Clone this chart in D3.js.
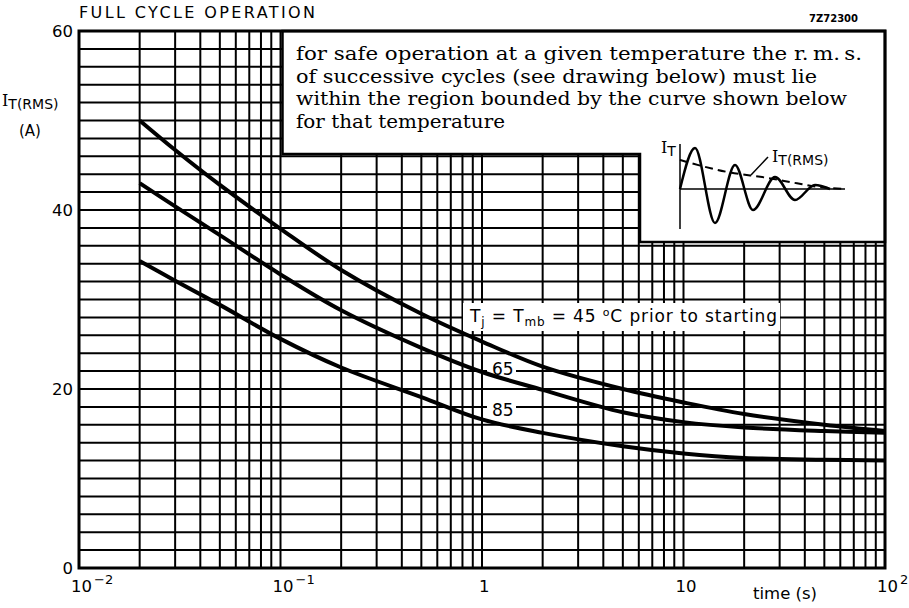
<!DOCTYPE html>
<html>
<head>
<meta charset="utf-8">
<script src="https://cdn.jsdelivr.net/npm/d3@7"></script>
<style>
  body { margin: 0; background: #fff; }
  text { fill: #000; }
</style>
</head>
<body>
<svg id="chart" width="909" height="608"></svg>
<script>
// surge current curves
const times = [0.02, 0.03, 0.05, 0.1, 0.2, 0.5, 1, 2, 5, 10, 20, 50, 100];
const i45 = [50, 46.7, 42.8, 37.9, 33.3, 28.4, 25.3, 22.5, 20.0, 18.5, 17.2, 16.0, 15.3];
const i65 = [43.0, 40.4, 37.2, 32.8, 28.8, 24.6, 21.9, 19.9, 17.4, 16.3, 15.7, 15.3, 15.1];
const i85 = [34.3, 32.1, 29.4, 25.6, 22.4, 19.1, 16.6, 15.1, 13.6, 12.8, 12.3, 12.1, 12.0];

const xTicks = [0.01, 0.1, 1, 10, 100];
const xTickLabels = [["10", "\u22122"], ["10", "\u22121"], ["1", ""], ["10", ""], ["10", "2"]];
const yTicks = [0, 20, 40, 60];

const noteLines = [
    "for safe operation at a given temperature the r.\u2009m.\u2009s.",
    "of successive cycles (see drawing below) must lie",
    "within the region bounded by the curve shown below",
    "for that temperature"
];
const noteWidths = [566, 521, 551, 209];

// little sketch in the corner (arbitrary units)
const waveT = [0, 15, 35, 55, 73, 95, 115, 135, 150];
const waveA = [0, 41, -34, 24, -21, 12, -11, 4, 0];
const rmsT = [0, 46, 88, 117, 137, 165];
const rmsA = [29, 17.3, 11, 5.7, 2.3, 0];

const svg = d3.select('#chart');
const sans = '"DejaVu Sans", sans-serif';

const x = d3.scaleLog().domain([0.01, 100]).range([79, 885]);
const y = d3.scaleLinear().domain([0, 60]).range([568, 31]);

// grid
const vLines = [];
[0.01, 0.1, 1, 10].forEach(d => {
    for (let k = 1; k < 10; k++) vLines.push(k * d);
});
vLines.push(100);

svg.append('g')
    .selectAll('line')
    .data(vLines)
    .join('line')
    .attr('x1', d => x(d)).attr('x2', d => x(d))
    .attr('y1', y(0)).attr('y2', y(60))
    .attr('stroke', '#000')
    .attr('stroke-width', 2);

svg.append('g')
    .selectAll('line')
    .data(d3.range(0, 61, 2))
    .join('line')
    .attr('x1', x(0.01)).attr('x2', x(100))
    .attr('y1', d => y(d)).attr('y2', d => y(d))
    .attr('stroke', '#000')
    .attr('stroke-width', 2);

// white patches behind the curve labels
svg.append('rect').attr('x', 463).attr('y', 303).attr('width', 317).attr('height', 28).attr('fill', '#fff');
svg.append('rect').attr('x', 487).attr('y', 360).attr('width', 29).attr('height', 19).attr('fill', '#fff');
svg.append('rect').attr('x', 487).attr('y', 401).attr('width', 29).attr('height', 19).attr('fill', '#fff');

// curves
const line = d3.line()
    .x(d => x(d[0]))
    .y(d => y(d[1]))
    .curve(d3.curveCatmullRom.alpha(0.5));

[i45, i65, i85].forEach(s => {
    svg.append('path')
        .datum(times.map((t, i) => [t, s[i]]))
        .attr('d', line)
        .attr('fill', 'none')
        .attr('stroke', '#000')
        .attr('stroke-width', 4);
});

// note box
svg.append('path')
    .attr('d', `M${x(0.1) + 2},${y(60)} V154 H640 V242 H${x(100)} V${y(60)} Z`)
    .attr('fill', '#fff')
    .attr('stroke', '#000')
    .attr('stroke-width', 2.5);

svg.append('g')
    .selectAll('text')
    .data(noteLines)
    .join('text')
    .attr('x', 296)
    .attr('y', (d, i) => 60 + i * 22.7)
    .attr('textLength', (d, i) => noteWidths[i])
    .attr('lengthAdjust', 'spacingAndGlyphs')
    .style('font-family', '"DejaVu Serif", serif')
    .style('font-size', '19px')
    .text(d => d);

// sketch
const ix = d3.scaleLinear().domain([0, 165]).range([680, 845]);
const iy = d3.scaleLinear().domain([-45, 45]).range([234, 144]);

svg.append('line')
    .attr('x1', ix(0)).attr('x2', ix(0))
    .attr('y1', iy(45)).attr('y2', iy(-40))
    .attr('stroke', '#000').attr('stroke-width', 1.5);
svg.append('line')
    .attr('x1', ix(0)).attr('x2', ix(165))
    .attr('y1', iy(0)).attr('y2', iy(0))
    .attr('stroke', '#000').attr('stroke-width', 1.5);

svg.append('path')
    .datum(waveT.map((t, i) => [t, waveA[i]]))
    .attr('d', d3.line().x(d => ix(d[0])).y(d => iy(d[1])).curve(d3.curveMonotoneX))
    .attr('fill', 'none')
    .attr('stroke', '#000')
    .attr('stroke-width', 2.5);

svg.append('path')
    .datum(rmsT.map((t, i) => [t, rmsA[i]]))
    .attr('d', d3.line().x(d => ix(d[0])).y(d => iy(d[1])).curve(d3.curveMonotoneX))
    .attr('fill', 'none')
    .attr('stroke', '#000')
    .attr('stroke-width', 2)
    .attr('stroke-dasharray', '8,5');

svg.append('line')
    .attr('x1', 768).attr('y1', 157)
    .attr('x2', 751).attr('y2', 175)
    .attr('stroke', '#000').attr('stroke-width', 1.5);

function iLabel(px, py, sub) {
    const t = svg.append('text').attr('x', px).attr('y', py);
    t.append('tspan')
        .style('font-family', '"DejaVu Serif", serif')
        .style('font-size', '16px')
        .text('I');
    t.append('tspan')
        .attr('dy', 3)
        .style('font-family', sans)
        .style('font-size', '14px')
        .text(sub);
    return t;
}
iLabel(661, 153, 'T');
iLabel(772, 162, 'T(RMS)');

// plot frame
svg.append('rect')
    .attr('x', x(0.01)).attr('y', y(60))
    .attr('width', x(100) - x(0.01))
    .attr('height', y(0) - y(60))
    .attr('fill', 'none')
    .attr('stroke', '#000')
    .attr('stroke-width', 3);

// curve labels
const tj = svg.append('text')
    .attr('x', 470).attr('y', 322)
    .attr('textLength', 307)
    .style('font-family', sans)
    .style('font-size', '17px');
tj.append('tspan').text('T');
tj.append('tspan').attr('dy', 4).style('font-size', '12px').text('j');
tj.append('tspan').attr('dy', -4).text(' = T');
tj.append('tspan').attr('dy', 4).style('font-size', '12px').text('mb');
tj.append('tspan').attr('dy', -4).text(' = 45 ');
tj.append('tspan').attr('dy', -6).style('font-size', '11px').text('o');
tj.append('tspan').attr('dy', 6).text('C  prior  to  starting');

svg.append('text').attr('x', 492).attr('y', 375)
    .style('font-family', sans).style('font-size', '17px').text('65');
svg.append('text').attr('x', 492).attr('y', 416)
    .style('font-family', sans).style('font-size', '17px').text('85');

// axes text
svg.append('g')
    .selectAll('text')
    .data(yTicks)
    .join('text')
    .attr('x', 73)
    .attr('y', d => y(d) + 6)
    .attr('text-anchor', 'end')
    .style('font-family', sans)
    .style('font-size', '16.5px')
    .text(d => d);

xTicks.forEach((t, i) => {
    const [base, exp] = xTickLabels[i];
    const w = base.length * 10;
    const el = svg.append('text')
        .attr('x', x(t) - w / 2 + 2)
        .attr('y', 592)
        .style('font-family', sans)
        .style('font-size', '16.5px');
    el.append('tspan').text(base);
    if (exp) el.append('tspan').attr('dy', -8).attr('dx', 2).style('font-size', '13px').text(exp);
});

svg.append('text')
    .attr('x', 753).attr('y', 599)
    .style('font-family', sans)
    .style('font-size', '16.5px')
    .text('time (s)');

iLabel(2, 106, 'T(RMS)');
svg.append('text')
    .attr('x', 19).attr('y', 136)
    .style('font-family', sans)
    .style('font-size', '15px')
    .text('(A)');

svg.append('text')
    .attr('x', 79).attr('y', 18)
    .attr('textLength', 236)
    .style('font-family', sans)
    .style('font-size', '16px')
    .text('FULL CYCLE OPERATION');

svg.append('text')
    .attr('x', 858).attr('y', 22)
    .attr('text-anchor', 'end')
    .style('font-family', sans)
    .style('font-size', '10px')
    .style('font-weight', 'bold')
    .text('7Z72300');
</script>
</body>
</html>
